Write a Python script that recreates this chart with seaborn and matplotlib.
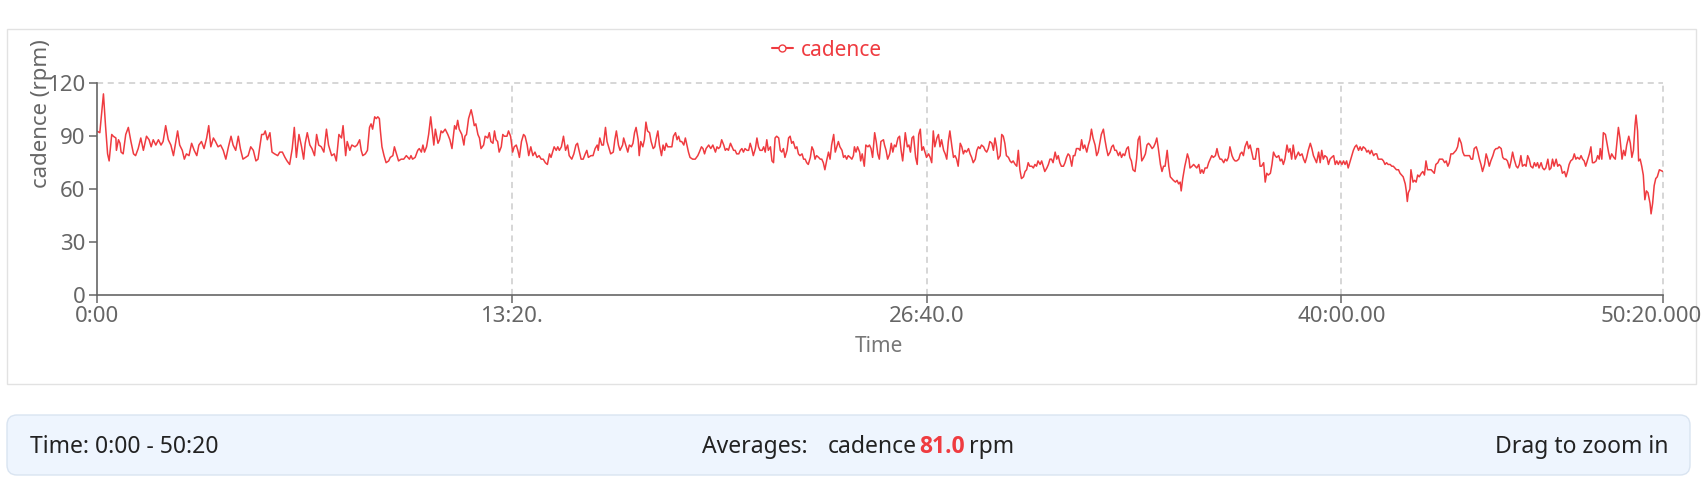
import matplotlib
matplotlib.use("Agg")
import matplotlib.pyplot as plt
import matplotlib.transforms as mtransforms
from matplotlib.patches import FancyBboxPatch, Rectangle
from matplotlib.lines import Line2D
import pandas as pd
import seaborn as sns

# Данные: время (с) и каденс (об/мин)
time_s = [
    0, 6, 13, 17, 21, 24, 29, 32, 37, 38, 42, 45, 47, 51, 56,
    61, 66, 71, 75, 80, 85, 90, 96, 101, 105, 109, 114, 119, 124, 128,
    133, 138, 143, 148, 152, 156, 160, 165, 169, 173, 178, 183, 188, 193, 197,
    202, 207, 212, 216, 220, 225, 229, 234, 239, 244, 249, 254, 259, 263, 268,
    273, 277, 282, 287, 292, 297, 302, 307, 311, 318, 322, 325, 329, 334, 338,
    343, 349, 353, 358, 363, 367, 372, 377, 381, 385, 390, 395, 399, 402, 406,
    411, 415, 420, 424, 428, 433, 438, 443, 447, 453, 458, 462, 467, 472, 475,
    480, 483, 488, 492, 498, 502, 507,
    510, 513, 518, 522, 526, 529, 532, 536, 539, 542, 545, 547, 550, 554, 558,
    563, 566, 571, 574, 577, 582, 587, 592, 597, 600, 603, 606, 609, 614, 619,
    622, 626, 629, 632, 636, 640, 644, 647, 650, 653, 658, 661, 664, 667, 672,
    677, 681, 685, 690, 693, 696, 699, 704, 708, 710, 713, 717, 722, 725, 728,
    731, 735, 738, 741, 746, 749, 754, 757, 760, 764, 767, 770, 773, 776, 780,
    783, 786, 791, 794, 798, 802, 805, 809, 812, 815, 819, 823, 826, 830, 833,
    837, 841, 845, 849, 853, 857, 861, 865, 869, 873, 876, 879, 882, 886, 889,
    892, 896, 900, 904, 908, 911, 916, 920, 924, 927, 930, 934, 938, 942, 945,
    948, 953, 957, 961, 965, 967, 970, 974, 977, 981, 984, 987, 991, 996, 999,
    1002, 1006, 1009, 1014,
    1016, 1019, 1024, 1027, 1031, 1034, 1037, 1040, 1044, 1046, 1049, 1053, 1056, 1059, 1062,
    1066, 1069, 1073, 1076, 1079, 1082, 1085, 1089, 1092, 1095, 1098, 1101, 1106, 1109, 1112,
    1116, 1119, 1122, 1125, 1128, 1132, 1135, 1138, 1141, 1144, 1149, 1154, 1159, 1162, 1166,
    1169, 1172, 1175, 1180, 1184, 1188, 1193, 1196, 1199, 1202, 1205, 1209, 1212, 1215, 1218,
    1222, 1225, 1228, 1231, 1234, 1238, 1241, 1244, 1247, 1250, 1254, 1257, 1260, 1263, 1266,
    1270, 1273, 1276, 1279, 1283, 1286, 1289, 1292, 1295, 1299, 1302, 1305, 1308, 1311, 1315,
    1318, 1321, 1324, 1327, 1331, 1334, 1337, 1340, 1343, 1347, 1350, 1353, 1356, 1360, 1363,
    1366, 1369, 1372, 1376, 1379, 1382, 1385, 1388, 1392, 1395, 1398, 1401, 1404, 1408, 1411,
    1414, 1417, 1421, 1424, 1427, 1430, 1433, 1437, 1440, 1443, 1446, 1449, 1453, 1456, 1459,
    1461, 1464, 1467, 1471, 1473, 1476, 1480, 1483, 1487, 1490, 1493, 1496, 1500, 1503, 1506,
    1509, 1512, 1517,
    1519, 1522, 1525, 1529, 1532, 1535, 1538, 1541, 1545, 1548, 1551, 1554, 1557, 1559, 1563,
    1566, 1569, 1572, 1575, 1579, 1582, 1585, 1588, 1591, 1594, 1597, 1600, 1604, 1607, 1610,
    1613, 1616, 1620, 1623, 1626, 1629, 1633, 1636, 1639, 1642, 1645, 1649, 1652, 1655, 1658,
    1661, 1665, 1668, 1671, 1674, 1677, 1681, 1684, 1687, 1690, 1694, 1697, 1700, 1703, 1706,
    1710, 1713, 1716, 1719, 1722, 1726, 1729, 1732, 1735, 1738, 1742, 1745, 1748, 1751, 1754,
    1758, 1761, 1764, 1767, 1771, 1774, 1777, 1780, 1783, 1787, 1790, 1793, 1796, 1799, 1803,
    1806, 1809, 1812, 1815, 1819, 1822, 1825, 1828, 1832, 1835, 1838, 1841, 1844, 1848, 1851,
    1854, 1857, 1860, 1864, 1867, 1870, 1873, 1876, 1880, 1883, 1886, 1889, 1893, 1896, 1899,
    1902, 1905, 1909, 1912, 1915, 1918, 1921, 1925, 1928, 1931, 1934, 1937, 1941, 1944, 1947,
    1950, 1954, 1957, 1960, 1963, 1966, 1970, 1973, 1976, 1979, 1982, 1986, 1989, 1992, 1995,
    1998, 2002, 2005, 2008, 2011, 2015,
    2019, 2022, 2025, 2028, 2031, 2035, 2038, 2041, 2044, 2047, 2051, 2054, 2057, 2060, 2064,
    2067, 2070, 2073, 2076, 2080, 2083, 2086, 2089, 2091, 2094, 2098, 2101, 2103, 2106, 2108,
    2112, 2115, 2118, 2121, 2125, 2128, 2131, 2134, 2137, 2141, 2144, 2147, 2150, 2153, 2157,
    2160, 2163, 2166, 2169, 2173, 2176, 2179, 2182, 2185, 2189, 2192, 2195, 2198, 2202, 2205,
    2208, 2211, 2214, 2218, 2221, 2224, 2227, 2230, 2234, 2237, 2240, 2243, 2246, 2250, 2253,
    2256, 2259, 2263, 2266, 2269, 2272, 2275, 2279, 2282, 2285, 2288, 2291, 2295, 2298, 2301,
    2304, 2307, 2311, 2314, 2317, 2320, 2324, 2327, 2330, 2333, 2336, 2340, 2343, 2346, 2349,
    2352, 2356, 2359, 2362, 2365, 2368, 2372, 2375, 2378, 2381, 2385, 2388, 2391, 2394, 2397,
    2401, 2404, 2407, 2410, 2413, 2417, 2420, 2423, 2426, 2429, 2433, 2436, 2439, 2442, 2446,
    2449, 2452, 2455, 2458, 2462, 2465, 2468, 2471, 2474, 2478, 2481, 2484, 2487, 2490, 2494,
    2497, 2500, 2503, 2506, 2510, 2513, 2516, 2519, 2523,
    2525, 2527, 2529, 2532, 2534, 2538, 2541, 2544, 2547, 2550, 2554, 2557, 2560, 2563, 2566,
    2570, 2573, 2576, 2579, 2582, 2586, 2589, 2592, 2595, 2599, 2602, 2605, 2608, 2611, 2615,
    2618, 2621, 2624, 2627, 2631, 2634, 2637, 2640, 2643, 2647, 2650, 2653, 2656, 2660, 2663,
    2666, 2669, 2672, 2676, 2679, 2682, 2685, 2688, 2692, 2695, 2698, 2701, 2704, 2708, 2711,
    2714, 2717, 2720, 2724, 2727, 2730, 2733, 2737, 2740, 2743, 2746, 2749, 2753, 2756, 2759,
    2762, 2765, 2769, 2772, 2775, 2778, 2781, 2785, 2788, 2791, 2794, 2798, 2801, 2804, 2807,
    2810, 2814, 2817, 2820, 2823, 2826, 2830, 2833, 2836, 2839, 2842, 2846, 2849, 2852, 2855,
    2859, 2862, 2865, 2868, 2871, 2875, 2878, 2881, 2884, 2887, 2891, 2894, 2897, 2899, 2902,
    2905, 2909, 2912, 2915, 2918, 2921, 2925, 2928, 2931, 2934, 2937, 2941, 2944, 2947, 2950,
    2954, 2957, 2960, 2963, 2966, 2968, 2971, 2973, 2976, 2979, 2982, 2985, 2988, 2991, 2995,
    2997, 3000, 3003, 3006, 3009, 3013, 3020,
]

cadence_rpm = [
    93, 92, 114, 96, 80, 76, 91, 90, 89, 82, 88, 86, 81, 80, 91,
    95, 87, 80, 79, 83, 89, 82, 90, 88, 84, 88, 85, 88, 85, 87,
    96, 88, 85, 79, 86, 93, 85, 82, 77, 80, 79, 86, 82, 79, 85,
    87, 83, 89, 96, 84, 89, 87, 84, 85, 82, 77, 84, 90, 85, 82,
    90, 83, 77, 78, 79, 84, 82, 76, 77, 91, 91, 93, 88, 92, 81,
    80, 79, 81, 81, 78, 76, 74, 83, 95, 78, 91, 84, 77, 86, 92,
    85, 83, 79, 91, 85, 84, 81, 94, 85, 79, 80, 76, 91, 89, 96,
    79, 87, 82, 85, 84, 85, 88,
    82, 79, 80, 82, 95, 97, 94, 101, 100, 101, 100, 93, 84, 79, 75,
    76, 78, 79, 84, 81, 76, 77, 77, 79, 78, 77, 79, 77, 78, 82,
    83, 81, 85, 81, 84, 91, 101, 93, 85, 94, 86, 88, 93, 92, 94,
    91, 88, 83, 96, 94, 99, 94, 91, 85, 90, 91, 100, 105, 101, 96,
    97, 91, 89, 83, 85, 90, 89, 92, 87, 86, 93, 88, 87, 81, 84,
    91, 90, 90, 93, 90, 81, 84, 85, 82, 78, 87, 91, 90, 85, 79,
    84, 79, 81, 78, 79, 77, 77, 75, 74, 80, 78, 81, 84, 82, 84,
    82, 84, 90, 82, 85, 79, 77, 80, 85, 86, 82, 77, 77, 80, 82,
    78, 79, 79, 83, 85, 82, 89, 85, 85, 95, 87, 84, 80, 81, 88,
    93, 85, 82, 85,
    89, 86, 81, 85, 84, 86, 92, 95, 88, 79, 87, 84, 88, 98, 93,
    92, 87, 83, 84, 89, 93, 85, 79, 85, 82, 86, 84, 84, 84, 90,
    92, 88, 90, 87, 87, 85, 89, 85, 81, 78, 77, 77, 79, 81, 84,
    83, 80, 83, 85, 83, 85, 81, 84, 83, 84, 88, 85, 82, 83, 82,
    86, 84, 82, 82, 80, 80, 82, 83, 81, 83, 82, 82, 86, 83, 79,
    83, 89, 84, 82, 82, 84, 81, 88, 82, 84, 76, 75, 89, 90, 89,
    82, 81, 83, 78, 82, 89, 90, 86, 87, 83, 84, 80, 79, 80, 77,
    77, 75, 74, 78, 84, 82, 77, 79, 78, 77, 77, 75, 71, 77, 81,
    77, 85, 91, 81, 84, 87, 84, 82, 78, 79, 77, 79, 78, 77, 79,
    84, 81, 84, 81, 76, 80, 73, 85, 84, 85, 83, 78, 92, 87, 80,
    77, 87, 88,
    85, 82, 77, 80, 86, 81, 85, 84, 89, 90, 82, 76, 85, 92, 84,
    85, 81, 89, 90, 78, 74, 91, 94, 82, 84, 81, 78, 80, 78, 75,
    93, 84, 89, 91, 84, 88, 82, 80, 77, 87, 93, 84, 78, 79, 77,
    73, 86, 84, 80, 82, 81, 83, 80, 78, 75, 77, 82, 84, 83, 85,
    84, 82, 81, 83, 87, 86, 82, 89, 84, 77, 79, 91, 90, 86, 79,
    78, 76, 75, 76, 74, 73, 82, 71, 66, 67, 70, 71, 75, 73, 73,
    72, 74, 73, 76, 74, 76, 73, 70, 72, 74, 77, 77, 75, 81, 77,
    79, 75, 73, 73, 75, 78, 80, 79, 73, 79, 79, 83, 83, 82, 88,
    83, 85, 81, 85, 88, 94, 89, 85, 79, 81, 86, 91, 94, 88, 83,
    79, 81, 84, 85, 82, 82, 79, 81, 78, 80, 79, 83, 84, 78, 76,
    71, 70, 77, 88, 90, 76,
    78, 80, 85, 86, 85, 83, 84, 86, 89, 83, 74, 70, 73, 73, 82,
    73, 67, 66, 65, 64, 65, 63, 64, 59, 66, 73, 77, 80, 77, 72,
    73, 74, 73, 72, 74, 69, 71, 69, 72, 72, 75, 77, 79, 78, 79,
    83, 79, 77, 77, 75, 77, 76, 78, 84, 79, 77, 76, 76, 77, 80,
    81, 79, 84, 87, 83, 85, 81, 77, 77, 83, 83, 73, 73, 75, 64,
    69, 68, 69, 74, 81, 79, 78, 79, 76, 77, 74, 77, 85, 81, 83,
    77, 85, 77, 79, 81, 79, 80, 77, 75, 78, 82, 86, 83, 79, 77,
    75, 81, 75, 82, 77, 79, 78, 74, 77, 78, 79, 74, 76, 74, 76,
    74, 76, 74, 76, 72, 76, 79, 82, 84, 85, 82, 84, 82, 84, 83,
    81, 82, 80, 82, 79, 80, 80, 77, 77, 77, 76, 74, 75, 74, 74,
    73, 73, 72, 71, 71, 69, 68, 67, 63,
    59, 53, 58, 60, 71, 64, 65, 64, 68, 67, 69, 70, 68, 76, 71,
    71, 71, 70, 69, 74, 75, 77, 77, 77, 75, 76, 73, 75, 80, 80,
    81, 82, 84, 89, 86, 81, 79, 79, 79, 79, 77, 77, 83, 84, 81,
    77, 74, 70, 74, 80, 77, 73, 76, 79, 82, 83, 83, 84, 83, 78,
    77, 77, 76, 72, 76, 81, 77, 73, 72, 74, 79, 73, 74, 73, 79,
    77, 73, 72, 75, 73, 75, 72, 75, 72, 71, 72, 77, 71, 72, 77,
    73, 77, 73, 74, 73, 69, 70, 67, 70, 74, 76, 77, 80, 77, 78,
    77, 79, 77, 76, 73, 77, 80, 84, 75, 75, 76, 79, 77, 83, 77,
    92, 91, 86, 81, 77, 80, 78, 77, 86, 95, 89, 77, 82, 79, 85,
    90, 86, 78, 82, 96, 102, 93, 76, 77, 73, 68, 54, 59, 58, 52,
    46, 52, 62, 66, 67, 71, 70,
]

x_ticks = [0, 800, 1600, 2400, 3020]
x_tick_labels = ["0:00", "13:20.", "26:40.0", "40:00.00", "50:20.000"]
y_ticks = [0, 30, 60, 90, 120]
avg_cadence = 81.0

RED = "#ef3b40"
GRAY = "#666666"
GRID = "#cccccc"

if len(time_s) != len(cadence_rpm):
    print("длины не совпадают:", len(time_s), len(cadence_rpm))
n = min(len(time_s), len(cadence_rpm))
df = pd.DataFrame({"time_s": time_s[:n], "cadence": cadence_rpm[:n]})

sns.set_theme(style="white")
plt.rcParams["font.family"] = ["Noto Sans", "DejaVu Sans"]

W, H = 1701, 484
fig = plt.figure(figsize=(W / 100, H / 100), dpi=100)

# Фон: рамка графика и нижняя панель (в пикселях)
bg = fig.add_axes([0, 0, 1, 1], zorder=0)
bg.set_xlim(0, W)
bg.set_ylim(H, 0)
bg.axis("off")
bg.add_patch(Rectangle((6.5, 29), 1689, 355, fill=False, ec="#e2e2e2", lw=1))
bg.add_patch(FancyBboxPatch((7, 415), 1683, 60,
                            boxstyle="round,pad=0,rounding_size=10",
                            fc="#eef5fe", ec="#d9e4f1", lw=1))

ty = 447
fs = 16.5
txt = dict(fontsize=fs, color="#222222", va="center")
bg.text(30, ty, "Time: 0:00 - 50:20", **txt)
bg.text(702, ty, "Averages:", **txt)
bg.text(828, ty, "cadence", **txt)
bg.text(919, ty, f"{avg_cadence:.1f}", fontsize=fs, color=RED, va="center",
        fontweight="bold", family=["Open Sans", "Lato", "DejaVu Sans"])
bg.text(969, ty, "rpm", **txt)
bg.text(1668, ty, "Drag to zoom in", ha="right", **txt)

# Основной график
ax = fig.add_axes([96.7 / W, 1 - 295 / H, (1663 - 96.7) / W, (295 - 83.3) / H],
                  zorder=1)
ax.patch.set_alpha(0)
sns.lineplot(data=df, x="time_s", y="cadence", ax=ax, color=RED, lw=1.1,
             estimator=None, legend=False)
ax.set_xlim(0, 3020)
ax.set_ylim(0, 120)
ax.set_xticks(x_ticks, x_tick_labels)
ax.set_yticks(y_ticks)
ax.set_xlabel("")
ax.set_ylabel("")

for x in x_ticks[1:]:
    ax.axvline(x, color=GRID, lw=1.1, ls=(0, (4, 3)), zorder=0, clip_on=False)
ax.axhline(120, color=GRID, lw=1.1, ls=(0, (4, 3)), zorder=0, clip_on=False)

for s in ["top", "right"]:
    ax.spines[s].set_visible(False)
for s in ["left", "bottom"]:
    ax.spines[s].set_color(GRAY)
    ax.spines[s].set_linewidth(1.2)
ax.tick_params(axis="both", length=6, width=1.1, color=GRAY, labelcolor=GRAY,
               labelsize=16, pad=2, left=True, bottom=True)

last = ax.get_xticklabels()[-1]
last.set_transform(last.get_transform() +
                   mtransforms.ScaledTranslation(-12 / 100, 0, fig.dpi_scale_trans))

fig.text(41 / W, 1 - 114 / H, "cadence (rpm)", rotation=90, ha="center",
         va="center", color=GRAY, fontsize=16)
fig.text(879 / W, 1 - 347 / H, "Time", ha="center", va="center",
         color="#777777", fontsize=15)

handle = Line2D([], [], color=RED, lw=1.5, marker="o", markersize=5,
                markerfacecolor="white", markeredgecolor=RED)
fig.legend(handles=[handle], labels=["cadence"], loc="center",
           bbox_to_anchor=(827 / W, 1 - 50 / H), frameon=False, fontsize=15,
           labelcolor=RED, handlelength=1.0, handletextpad=0.4)

fig.savefig("out.png", dpi=100)
